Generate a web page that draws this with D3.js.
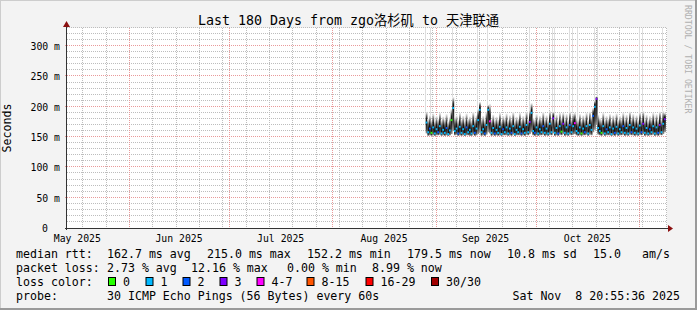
<!DOCTYPE html>
<html><head><meta charset="utf-8">
<script src="https://cdn.jsdelivr.net/npm/d3@7"></script>
<style>
html,body{margin:0;padding:0;background:#f3f3f3;}
svg{display:block;}
text{font-family:"DejaVu Sans Mono","Noto Sans CJK SC",monospace;white-space:pre;}
</style></head><body>
<svg id="chart" width="697" height="310"></svg>
<script>
// ---------------- DATA ----------------
const titleText = "Last 180 Days from zgo洛杉矶 to 天津联通";
const yTickValues = [0, 50, 100, 150, 200, 250, 300];
const yTickLabels = ["0", "50 m", "100 m", "150 m", "200 m", "250 m", "300 m"];
const lossLabels = ["0", "1", "2", "3", "4-7", "8-15", "16-29", "30/30"];
const lossColors = ["#26ff00", "#00b8ff", "#0059ff", "#7e00ff", "#ff00ff", "#ff5500", "#ff0000", "#a00000"];
const firstSample = "2025-08-29T00:00:00Z";   // samples every 12 hours
const medianMs = [174,158,164,157,166,156,163,158,168,156,162,157,165,155,161,178,198,160,164,156,
  167,157,163,155,166,158,162,156,168,157,164,178,195,158,163,156,170,195,176,157,
  165,156,162,157,167,155,163,158,166,156,164,157,168,155,162,158,167,156,163,157,
  170,158,175,190,160,157,166,156,163,158,168,157,164,156,172,158,181,157,165,156,
  168,159,172,157,166,156,170,158,168,173,160,157,166,156,164,158,168,156,170,162,
  185,200,213,165,160,157,168,156,163,158,166,155,164,157,167,156,163,158,168,157,
  165,156,170,158,166,157,164,156,169,158,172,157,165,156,163,158,168,156,166,157,
  170,158,172,179.5];
const upperMs = [192,180,186,178,189,177,185,180,190,178,184,179,188,176,183,196,216,182,186,178,
  190,179,185,177,189,180,184,178,191,179,186,197,208,180,185,178,192,203,205,179,
  187,178,184,179,190,177,185,180,189,178,186,179,191,177,184,180,190,178,185,179,
  192,180,195,206,182,179,188,178,185,180,191,179,186,178,193,180,192,179,187,178,
  190,181,190,179,188,178,192,180,189,190,182,179,188,178,186,180,190,178,192,184,
  198,210,217,187,182,179,190,178,185,180,188,177,186,179,189,178,185,180,190,179,
  187,178,192,180,188,179,186,178,191,180,193,179,187,178,185,180,190,178,188,179,
  192,180,193,190];
const lowerMs = [156,152,153,152,153,152,153,153,154,152,153,152,153,152,153,155,160,153,154,152,
  153,152,153,152,153,153,152,152,154,152,153,155,158,152,153,152,154,158,156,152,
  153,152,153,152,153,152,153,153,153,152,153,152,154,152,153,153,153,152,153,152,
  154,153,155,158,153,152,153,152,153,153,154,152,153,152,154,153,156,152,153,152,
  154,153,155,152,153,152,154,153,154,155,153,152,153,152,153,153,154,152,154,153,
  158,162,170,154,153,152,154,152,153,153,153,152,153,152,154,152,153,153,154,152,
  153,152,154,153,153,152,153,152,154,153,155,152,153,152,153,153,154,152,153,152,
  154,153,155,158];
const lossIdx = [1,1,2,0,1,1,1,2,1,1,1,1,2,1,1,0,1,1,1,2,
  1,1,1,1,2,1,1,1,1,2,1,1,1,1,1,2,1,1,4,1,
  1,2,1,1,1,1,2,1,1,1,1,2,1,1,1,1,1,2,1,1,
  1,1,3,1,1,2,1,1,1,1,2,1,1,1,1,1,3,1,1,2,
  1,0,3,1,1,1,2,1,1,4,1,1,1,0,1,2,1,1,1,1,
  2,1,3,1,1,0,1,1,2,1,1,1,1,2,1,1,1,1,2,1,
  1,1,1,2,1,1,1,1,1,2,3,1,1,1,2,1,1,1,1,2,
  3,1,1,3];
const outlierTimes = ["2025-08-29T00:00:00Z","2025-08-30T12:00:00Z","2025-09-06T00:00:00Z","2025-09-13T12:00:00Z",
  "2025-09-16T12:00:00Z","2025-09-29T00:00:00Z","2025-10-06T00:00:00Z","2025-10-06T12:00:00Z",
  "2025-10-11T00:00:00Z","2025-10-12T00:00:00Z","2025-10-13T12:00:00Z","2025-10-18T12:00:00Z",
  "2025-10-19T12:00:00Z","2025-11-01T00:00:00Z","2025-11-02T00:00:00Z","2025-11-08T00:00:00Z"];
const legendRtt = ["median rtt:", "162.7 ms avg", "215.0 ms max", "152.2 ms min", "179.5 ms now", "10.8 ms sd", "15.0", "am/s"];
const legendLoss = ["packet loss:", "2.73 % avg", "12.16 % max", "0.00 % min", "8.99 % now"];
const legendProbe = ["probe:", "30 ICMP Echo Pings (56 Bytes) every 60s", "Sat Nov  8 20:55:36 2025"];
const rangeStart = "2025-05-13T09:36:00Z", rangeEnd = "2025-11-09T09:36:00Z";

// ---------------- CHART ----------------
const svg = d3.select("#chart");
const W = 697, H = 310;
const L = 67, R = 667, T = 28, B = 228;
const x = d3.scaleUtc().domain([new Date(rangeStart), new Date(rangeEnd)]).range([L, R]);
const y = d3.scaleLinear().domain([0, 330]).range([B, T]);
const STEP = 12 * 3600e3;
const t0 = +new Date(firstSample);
const times = medianMs.map((_, i) => new Date(t0 + i * STEP));

// canvas & frame
svg.append("rect").attr("width", W).attr("height", H).attr("fill", "#f3f3f3");
svg.append("path").attr("d", `M0,${H} V0 H${W}`).attr("stroke", "#cdcdcd").attr("stroke-width", 2).attr("fill", "none");
svg.append("path").attr("d", `M0,${H-1} H${W-1} V0`).attr("stroke", "#9a9a9a").attr("stroke-width", 2).attr("fill", "none");
svg.append("rect").attr("x", L).attr("y", T).attr("width", R - L).attr("height", B - T).attr("fill", "#ffffff");

const snap = v => Math.round(v) + 0.5;
const grid = svg.append("g");
// minor horizontal grid (every 10 m)
d3.range(10, 331, 10).filter(v => v % 50 !== 0).forEach(v => {
  grid.append("line").attr("x1", L).attr("x2", R).attr("y1", snap(y(v)) - 1).attr("y2", snap(y(v)) - 1)
    .attr("stroke", "#bdbdbd").attr("stroke-dasharray", "1,1");
});
// minor vertical grid (weekly)
d3.utcSunday.range(x.domain()[0], x.domain()[1]).forEach(d => {
  grid.append("line").attr("x1", snap(x(d))).attr("x2", snap(x(d))).attr("y1", T).attr("y2", B)
    .attr("stroke", "#bdbdbd").attr("stroke-dasharray", "1,1");
});
// major horizontal grid
yTickValues.filter(v => v > 0).forEach(v => {
  grid.append("line").attr("x1", L - 2).attr("x2", R).attr("y1", snap(y(v)) - 1).attr("y2", snap(y(v)) - 1)
    .attr("stroke", "#e99a9a").attr("stroke-dasharray", "1,1");
});
// major vertical grid (monthly)
const months = d3.utcMonth.range(x.domain()[0], x.domain()[1]);
months.forEach(d => {
  grid.append("line").attr("x1", snap(x(d))).attr("x2", snap(x(d))).attr("y1", T).attr("y2", B + 2)
    .attr("stroke", "#e99a9a").attr("stroke-dasharray", "1,1");
});

// gradients for smoke
const defs = svg.append("defs");
const gu = defs.append("linearGradient").attr("id", "smokeUp").attr("x1", 0).attr("y1", 1).attr("x2", 0).attr("y2", 0);
[[0, "#0a0a0a"], [0.35, "#1e1e1e"], [0.6, "#666"], [0.85, "#c4c4c4"], [1, "#f0f0f0"]].forEach(s =>
  gu.append("stop").attr("offset", s[0]).attr("stop-color", s[1]));
const gd = defs.append("linearGradient").attr("id", "smokeDown").attr("x1", 0).attr("y1", 0).attr("x2", 0).attr("y2", 1);
[[0, "#151515"], [0.6, "#3a3a3a"], [1, "#9a9a9a"]].forEach(s =>
  gd.append("stop").attr("offset", s[0]).attr("stop-color", s[1]));

const data = times.map((t, i) => ({ t, m: medianMs[i], hi: upperMs[i], lo: lowerMs[i], loss: lossIdx[i] }));
const colW = x(new Date(t0 + STEP)) - x(new Date(t0));

// outlier pings reaching the top
const og = svg.append("g");
outlierTimes.forEach(s => {
  const d = new Date(s);
  const i = Math.round((+d - t0) / STEP);
  og.append("line").attr("x1", Math.floor(x(d)) + 0.5).attr("x2", Math.floor(x(d)) + 0.5)
    .attr("y1", T).attr("y2", y(upperMs[i])).attr("stroke", "#dedede");
});

const sg = svg.append("g");
sg.selectAll(".up").data(data).join("rect")
  .attr("x", d => x(d.t)).attr("width", colW + 0.2)
  .attr("y", d => y(d.hi)).attr("height", d => y(d.m) - y(d.hi))
  .attr("fill", "url(#smokeUp)");
sg.selectAll(".dn").data(data).join("rect").attr("class", "dn")
  .attr("x", d => x(d.t)).attr("width", colW + 0.2)
  .attr("y", d => y(d.m)).attr("height", d => Math.max(0, y(d.lo) - y(d.m)))
  .attr("fill", "url(#smokeDown)");
sg.selectAll(".md").data(data).join("rect").attr("class", "md")
  .attr("x", d => x(d.t)).attr("width", colW)
  .attr("y", d => y(d.m) - 1).attr("height", 2)
  .attr("fill", d => lossColors[d.loss]);

// axes
svg.append("line").attr("x1", L - 2).attr("x2", R + 2).attr("y1", B + 0.5).attr("y2", B + 0.5).attr("stroke", "#333");
svg.append("line").attr("x1", L - 0.5).attr("x2", L - 0.5).attr("y1", B + 2).attr("y2", T - 2).attr("stroke", "#333");
svg.append("path").attr("d", `M${R + 1},${B - 3} L${R + 6},${B + 0.5} L${R + 1},${B + 4} Z`).attr("fill", "#8b1010");
svg.append("path").attr("d", `M${L - 4},${T - 1} L${L - 0.5},${T - 7} L${L + 3},${T - 1} Z`).attr("fill", "#8b1010");

// y labels
yTickValues.forEach((v, i) => {
  svg.append("text").attr("x", v === 0 ? 48 : 60).attr("y", snap(y(v)) + 3)
    .attr("text-anchor", "end").attr("font-size", "9.8px").attr("fill", "#000").text(yTickLabels[i]);
});
// x labels centered mid-month
months.concat([d3.utcMonth.floor(x.domain()[0])]).forEach(d => {
  const mid = new Date((+d + +d3.utcMonth.offset(d, 1)) / 2);
  if (x(mid) < L - 20 || x(mid) > R) return;
  svg.append("text").attr("x", x(mid)).attr("y", 241.5).attr("text-anchor", "middle")
    .attr("font-size", "9.8px").text(d3.utcFormat("%b %Y")(d));
});

// title & side text
svg.append("text").attr("x", 348.5).attr("y", 25).attr("text-anchor", "middle").attr("font-size", "13.3px").text(titleText);
svg.append("text").attr("transform", "translate(11,128) rotate(-90)").attr("text-anchor", "middle")
  .attr("font-size", "11.6px").text("Seconds");
svg.append("text").attr("transform", "translate(685,5) rotate(90)").attr("font-size", "8.2px")
  .attr("fill", "#b0b0b0").text("RRDTOOL / TOBI OETIKER");

// legend
const FS = "11.6px";
const rttX = [16, 107, 207, 307, 407, 507, 593, 642];
legendRtt.forEach((s, i) => svg.append("text").attr("x", rttX[i]).attr("y", 258).attr("font-size", FS).text(s));
const lossX = [16, 107, 191, 287, 372];
legendLoss.forEach((s, i) => svg.append("text").attr("x", lossX[i]).attr("y", 272).attr("font-size", FS).text(s));
svg.append("text").attr("x", 16).attr("y", 286).attr("font-size", FS).text("loss color:");
const boxX = [108, 145.5, 182.5, 219.5, 256.5, 306.5, 365.5, 431];
lossLabels.forEach((s, i) => {
  svg.append("rect").attr("x", boxX[i] + 0.5).attr("y", 277.5).attr("width", 7).attr("height", 8)
    .attr("fill", lossColors[i]).attr("stroke", "#000").attr("stroke-width", 1);
  svg.append("text").attr("x", boxX[i] + 15).attr("y", 286).attr("font-size", FS).text(s);
});
svg.append("text").attr("x", 16).attr("y", 300).attr("font-size", FS).text(legendProbe[0]);
svg.append("text").attr("x", 107).attr("y", 300).attr("font-size", FS).text(legendProbe[1]);
svg.append("text").attr("x", 680).attr("y", 300).attr("text-anchor", "end").attr("font-size", FS).text(legendProbe[2]);
</script>
</body></html>
